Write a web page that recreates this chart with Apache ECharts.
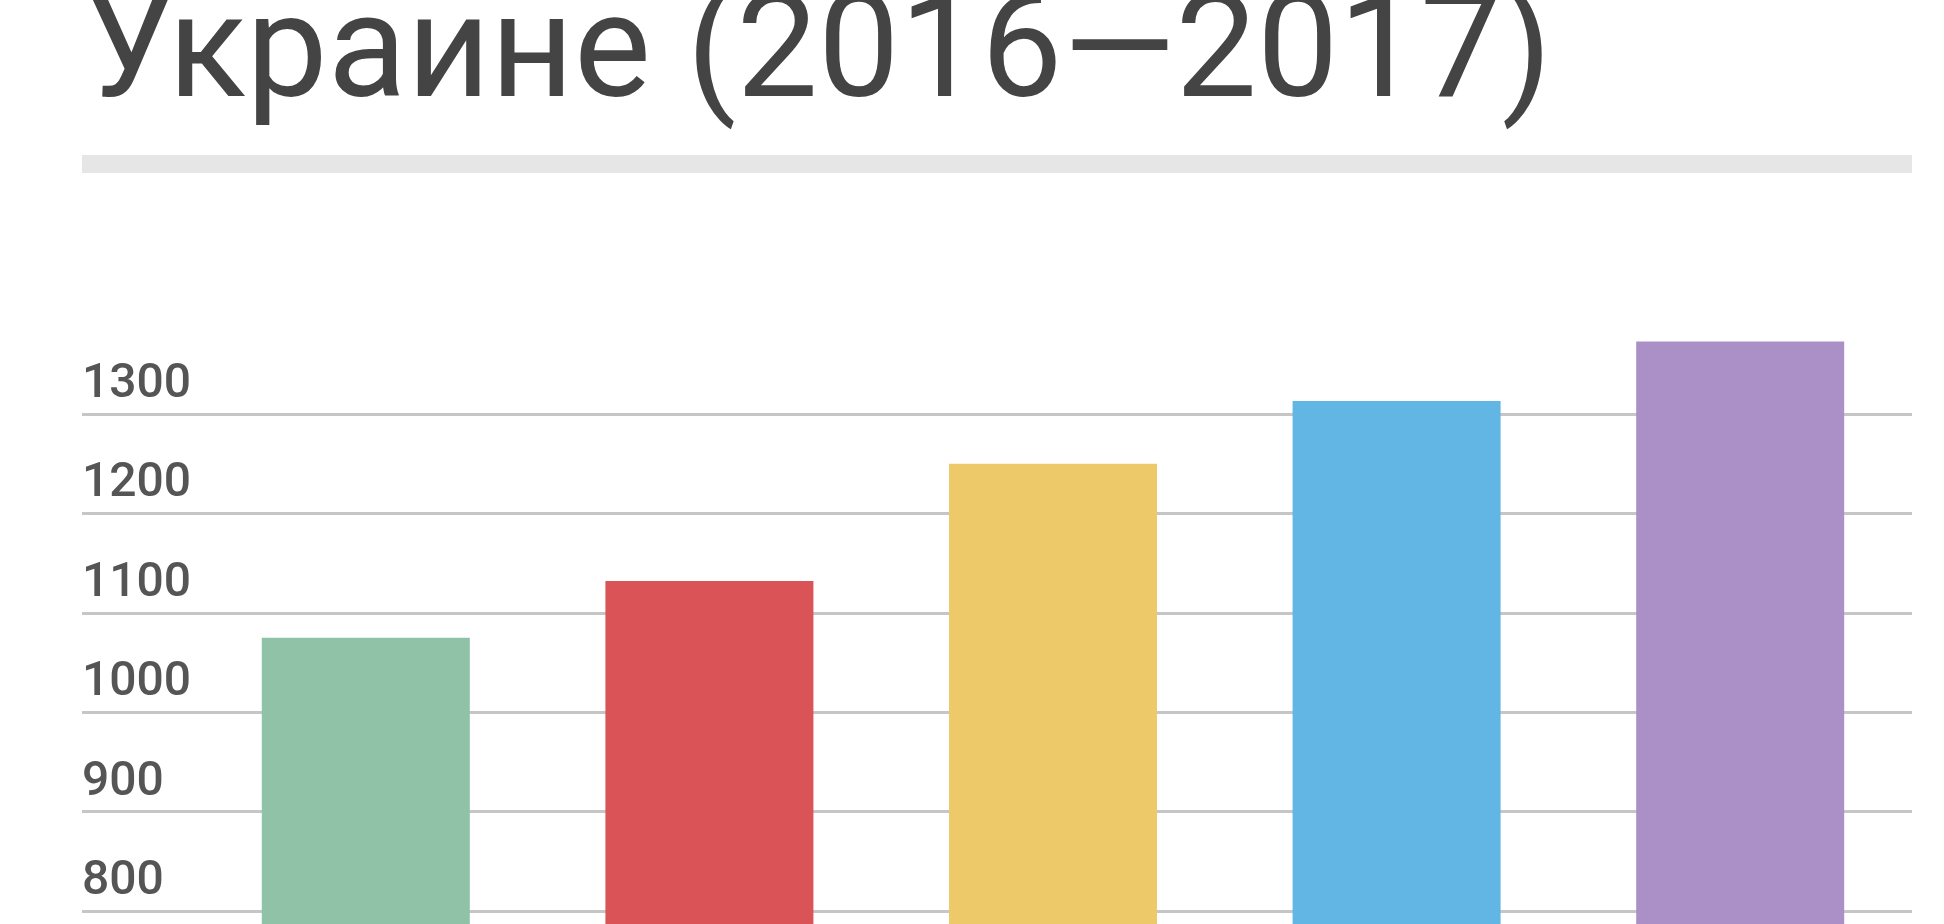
<!DOCTYPE html>
<html>
<head>
<meta charset="utf-8">
<script src="https://cdn.jsdelivr.net/npm/echarts@6/dist/echarts.min.js"></script>
<style>
html, body { margin: 0; padding: 0; background: #ffffff; overflow: hidden; }
#chart { width: 1944px; height: 1100px; }
</style>
</head>
<body>
<div id="chart"></div>
<script>
// ---- data ----
const titleText = 'Украине (2016\u20142017)';
const categories = ['1', '2', '3', '4', '5'];
const values = [1075, 1132, 1250, 1313, 1373];
const yTicks = [700, 800, 900, 1000, 1100, 1200, 1300, 1400];

// ---- styles ----
const barColors = ['#8fc2a7', '#da5356', '#edc96a', '#61b6e3', '#aa90c7'];
const yMin = yTicks[0];
const yMax = yTicks[yTicks.length - 1];
const yStep = yTicks[1] - yTicks[0];

const gridTop = 314.6;
const gridBottom = 1100 - 1010.4;

const splitColors = yTicks.map((t, i) => i === yTicks.length - 1 ? 'rgba(0,0,0,0)' : '#c6c6c6');

const chart = echarts.init(document.getElementById('chart'), null, { renderer: 'canvas' });
chart.setOption({
  animation: false,
  backgroundColor: '#ffffff',
  graphic: [
    {
      type: 'text',
      x: 84,
      y: 60,
      style: {
        text: titleText,
        font: 'normal 145px Roboto',
        fill: '#444444',
        verticalAlign: 'middle',
        align: 'left'
      }
    },
    {
      type: 'rect',
      shape: { x: 82, y: 155, width: 1830, height: 18 },
      style: { fill: '#e6e6e6' }
    }
  ],
  grid: [
    { left: 194, right: 32, top: gridTop, bottom: gridBottom },
    { left: 82, right: 32, top: gridTop, bottom: gridBottom }
  ],
  xAxis: [
    {
      type: 'category', gridIndex: 0, data: categories,
      axisLine: { show: false }, axisTick: { show: false }, axisLabel: { show: false }
    },
    {
      type: 'value', gridIndex: 1, min: 0, max: 1, show: false
    }
  ],
  yAxis: [
    {
      type: 'value', gridIndex: 0, min: yMin, max: yMax, interval: yStep,
      show: false, splitLine: { show: false }
    },
    {
      type: 'value', gridIndex: 1, min: yMin, max: yMax, interval: yStep,
      axisLine: { show: false }, axisTick: { show: false },
      splitLine: { show: true, lineStyle: { color: splitColors, width: 3 } },
      axisLabel: {
        inside: true, margin: 0, showMaxLabel: false,
        verticalAlign: 'bottom', align: 'left',
        padding: [0, 0, 5, 0],
        formatter: (v) => String(v),
        fontFamily: 'Roboto', fontSize: 48, fontWeight: 500, color: '#555555'
      },
      z: 0
    }
  ],
  series: [
    {
      type: 'bar',
      xAxisIndex: 0, yAxisIndex: 0,
      data: values,
      barWidth: 208,
      z: 5,
      itemStyle: { color: (p) => barColors[p.dataIndex] }
    }
  ]
});
</script>
</body>
</html>
